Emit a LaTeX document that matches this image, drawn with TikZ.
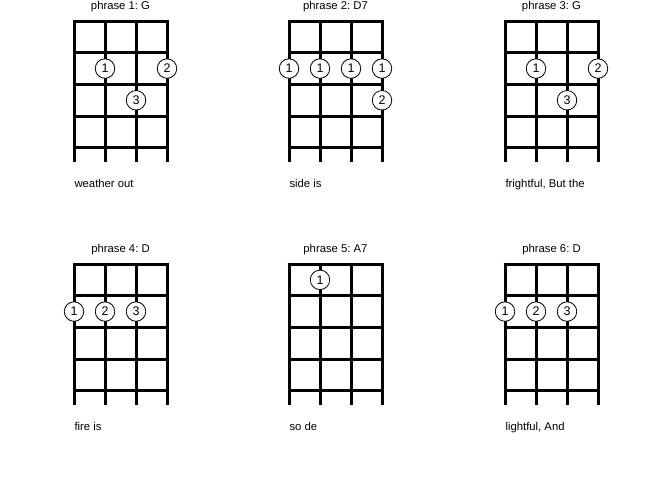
\documentclass[tikz,border=0pt]{standalone}
\usepackage{fontspec}
\setmainfont{Liberation Sans}
\frenchspacing
\begin{document}
\begin{tikzpicture}[x=1pt,y=-1pt,
  fretline/.style={line width=3pt},
  stringline/.style={line width=3pt},
  fingerdot/.style={circle,draw,fill=white,line width=0.8pt,minimum size=19.5pt,inner sep=0pt,font=\fontsize{12.5}{13}\selectfont},
  titletext/.style={font=\fontsize{11.3}{12}\selectfont,anchor=center},
  lyrictext/.style={font=\fontsize{11.3}{12}\selectfont,anchor=base west}]
\useasboundingbox (0,0) rectangle (672,480);
\newcommand{\chordpanel}[5]{%
  % #1 x0, #2 y0, #3 id, #4 title, #5 lyric
  \foreach \f in {0,...,4} {
    \draw[fretline] ({#1-1.5},{#2+31.7*\f}) -- ({#1+93+1.5},{#2+31.7*\f});
  }
  \foreach \s in {0,...,3} {
    \draw[stringline] ({#1+31*\s},{#2-1.5}) -- ({#1+31*\s},{#2+141});
  }
  \node[titletext] (title#3) at ({#1+46.5},{#2-14.5}) {#4};
  \node[lyrictext] (lyric#3) at ({#1-3},{#2+166}) {#5};
}
\newcommand{\fdot}[6]{%
  % #1 x0, #2 y0, #3 string, #4 fret, #5 label, #6 name
  \node[fingerdot] (#6) at ({#1+31*#3},{#2+31.7*(#4-0.5)}) {#5};
}
% Row 1
\chordpanel{74}{21}{a}{phrase 1: G}{weather out}
\fdot{74}{21}{1}{2}{1}{aA}
\fdot{74}{21}{3}{2}{2}{aB}
\fdot{74}{21}{2}{3}{3}{aC}

\chordpanel{289}{21}{b}{phrase 2: D7}{side is}
\fdot{289}{21}{0}{2}{1}{bA}
\fdot{289}{21}{1}{2}{1}{bB}
\fdot{289}{21}{2}{2}{1}{bC}
\fdot{289}{21}{3}{2}{1}{bD}
\fdot{289}{21}{3}{3}{2}{bE}

\chordpanel{505}{21}{c}{phrase 3: G}{frightful, But the}
\fdot{505}{21}{1}{2}{1}{cA}
\fdot{505}{21}{3}{2}{2}{cB}
\fdot{505}{21}{2}{3}{3}{cC}

% Row 2
\chordpanel{74}{264}{d}{phrase 4: D}{fire is}
\fdot{74}{264}{0}{2}{1}{dA}
\fdot{74}{264}{1}{2}{2}{dB}
\fdot{74}{264}{2}{2}{3}{dC}

\chordpanel{289}{264}{e}{phrase 5: A7}{so de}
\fdot{289}{264}{1}{1}{1}{eA}

\chordpanel{505}{264}{f}{phrase 6: D}{lightful, And}
\fdot{505}{264}{0}{2}{1}{fA}
\fdot{505}{264}{1}{2}{2}{fB}
\fdot{505}{264}{2}{2}{3}{fC}
\end{tikzpicture}
\end{document}
